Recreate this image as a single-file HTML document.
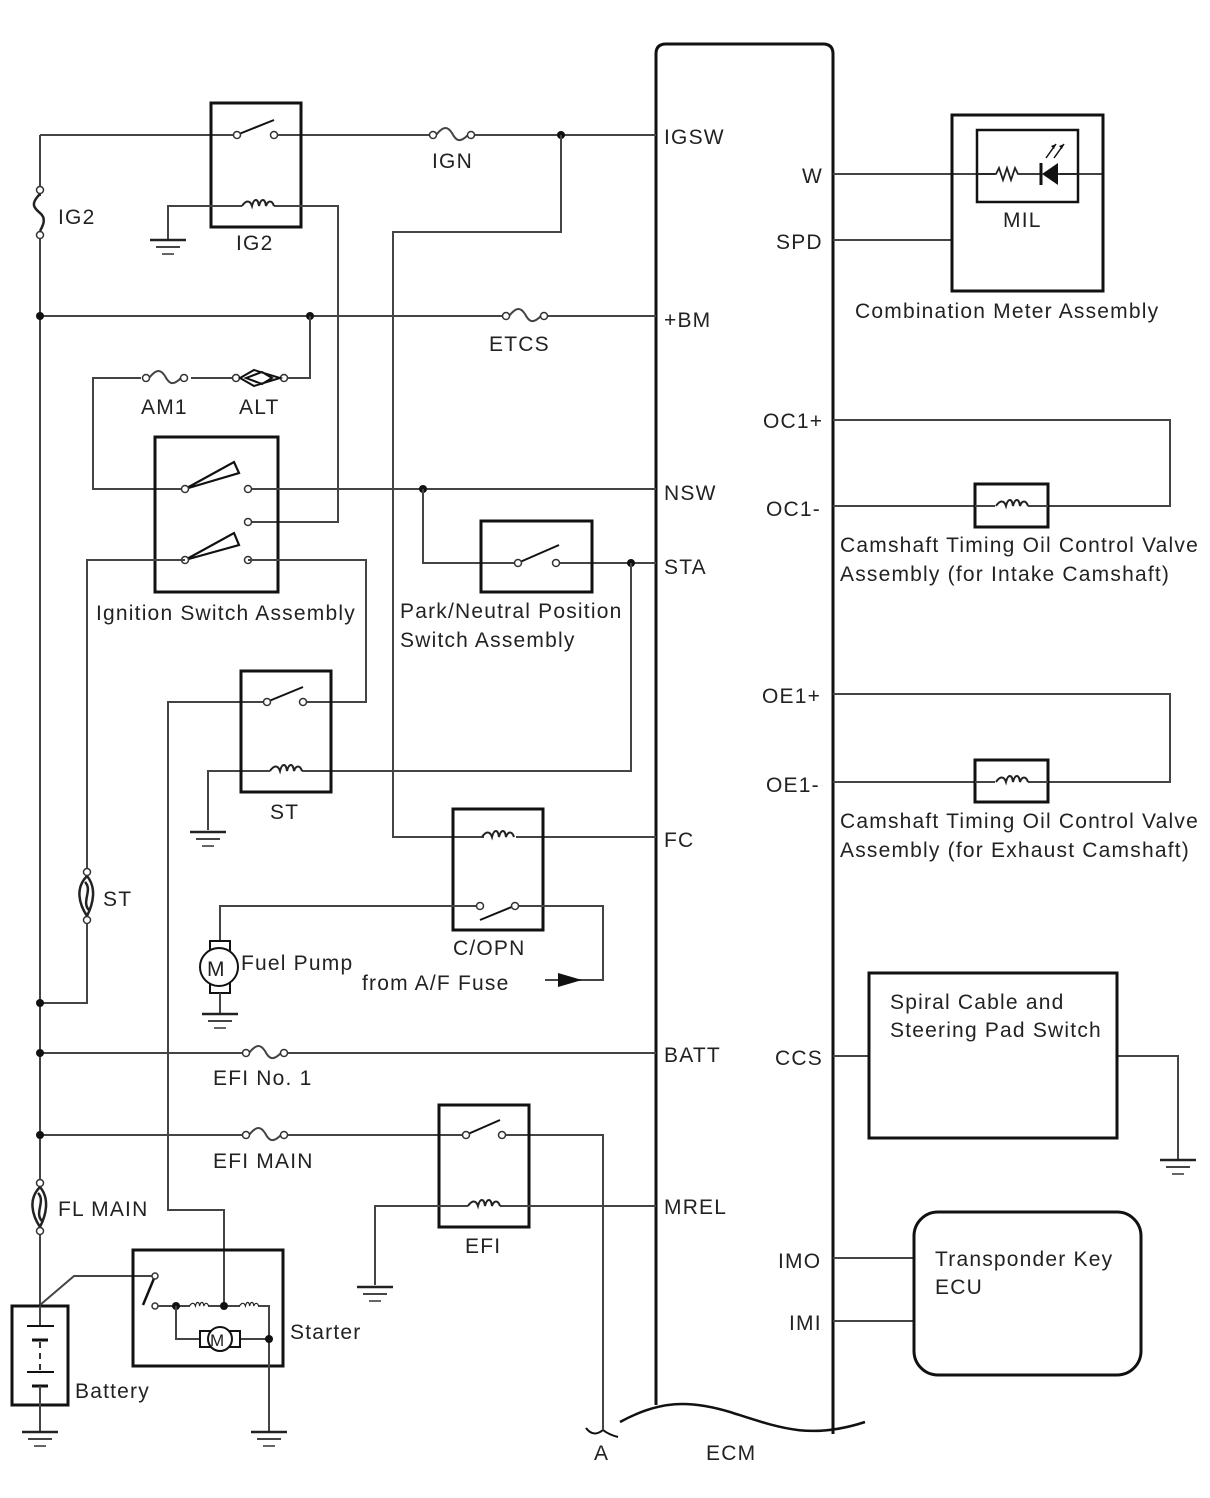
<!DOCTYPE html>
<html><head><meta charset="utf-8"><style>
html,body{margin:0;padding:0;background:#fff}
svg{display:block}
text{font-family:"Liberation Sans",sans-serif;font-size:21px;fill:#222;letter-spacing:1.2px}
.w{stroke:#444;stroke-width:2;fill:none}
.b{stroke:#111;stroke-width:3;fill:none}
.c{stroke:#333;stroke-width:1.5;fill:#fff}
.d{fill:#111}
</style></head><body>
<svg width="1210" height="1498" viewBox="0 0 1210 1498" xmlns="http://www.w3.org/2000/svg">
<defs>
<g id="gnd"><line x1="-18" y1="0" x2="18" y2="0" stroke="#222" stroke-width="2.5"/><line x1="-12" y1="7" x2="12" y2="7" stroke="#444" stroke-width="2"/><line x1="-6" y1="14" x2="6" y2="14" stroke="#666" stroke-width="2"/></g>
<g id="fh"><path d="M-16,0 C-8,-10 -4,-8 0,-2 C4,6 8,8 16,0" class="w" stroke="#222"/><circle cx="-19" cy="0" r="3.5" class="c"/><circle cx="19" cy="0" r="3.5" class="c"/></g>
<g id="coil"><path d="M-16,0 C-12,-6 -8,-6 -6,0 C-4,-8 0,-8 1,0 C3,-8 7,-8 8,0 C10,-6 14,-6 16,0" fill="none" stroke="#222" stroke-width="2"/></g>
<g id="fl"><path d="M0,-20 C-12,-8 -8,8 0,20 M0,-20 C10,-8 6,8 0,20 M-2,-14 C6,-6 -6,6 2,14" fill="none" stroke="#222" stroke-width="2.5"/><circle cx="0" cy="-24" r="3.5" class="c"/><circle cx="0" cy="24" r="3.5" class="c"/></g>
</defs>

<!-- ECM -->
<path d="M656,1405 L656,54 Q656,44 666,44 L823,44 Q833,44 833,54 L833,1434" class="b"/>
<path d="M620,1422 C660,1400 690,1400 730,1412 C780,1428 810,1440 865,1422" fill="none" stroke="#111" stroke-width="2.5"/>
<path d="M586,1428 C592,1436 598,1434 603,1430 C608,1434 614,1436 618,1437" fill="none" stroke="#111" stroke-width="2"/>
<text x="706" y="1460">ECM</text>
<text x="594" y="1460">A</text>

<!-- left bus -->
<line x1="40" y1="135" x2="40" y2="1305" class="w"/>
<circle cx="40" cy="190" r="3.5" class="c"/><circle cx="40" cy="235" r="3.5" class="c"/>
<rect x="34" y="196" width="12" height="35" fill="#fff"/>
<path d="M40,194 C30,204 34,208 40,213 C46,218 44,224 40,231" fill="none" stroke="#222" stroke-width="2.5"/>
<text x="58" y="224">IG2</text>

<!-- IGSW top line -->
<line x1="40" y1="135" x2="237" y2="135" class="w"/>
<line x1="274" y1="135" x2="432" y2="135" class="w"/>
<line x1="472" y1="135" x2="656" y2="135" class="w"/>
<use href="#fh" x="452" y="135"/>
<text x="432" y="168">IGN</text>
<rect x="211" y="103" width="90" height="124" class="b"/>
<line x1="239" y1="134" x2="274" y2="120" stroke="#111" stroke-width="2"/>
<circle cx="237" cy="135" r="3.5" class="c"/><circle cx="274" cy="135" r="3.5" class="c"/>
<circle cx="561" cy="135" r="4" class="d"/>
<text x="664" y="144">IGSW</text>
<!-- IG2 coil -->
<path d="M168,240 L168,206 L242,206 M274,206 L338,206 L338,522 L248,522" class="w"/>
<use href="#coil" x="258" y="206"/>
<use href="#gnd" x="168" y="240"/>
<text x="236" y="250">IG2</text>

<!-- FC line from 561 -->
<path d="M561,135 L561,232 L393,232 L393,837 L484,837 M516,837 L656,837" class="w"/>

<!-- +BM -->
<line x1="40" y1="316" x2="505" y2="316" class="w"/>
<line x1="545" y1="316" x2="656" y2="316" class="w"/>
<use href="#fh" x="525" y="316"/>
<circle cx="40" cy="316" r="4" class="d"/><circle cx="310" cy="316" r="4" class="d"/>
<text x="489" y="351">ETCS</text>
<text x="664" y="327">+BM</text>
<path d="M310,316 L310,378 L288,378 M234,378 L191,378 M141,378 L93,378 L93,489 L185,489" class="w"/>
<use href="#fh" x="165" y="378"/>
<circle cx="236" cy="378" r="3.5" class="c"/><circle cx="284" cy="378" r="3.5" class="c"/>
<path d="M240,378 L254,370 L280,378 L254,386 Z M246,378 L262,372 L272,378 L262,384 Z" fill="none" stroke="#111" stroke-width="2"/>
<text x="141" y="414">AM1</text>
<text x="239" y="414">ALT</text>

<!-- Ignition switch -->
<rect x="155" y="437" width="123" height="155" class="b"/>
<path d="M185,489 L234,462 L239,473 Z" fill="none" stroke="#111" stroke-width="2.2"/>
<path d="M185,560 L234,533 L239,545 Z" fill="none" stroke="#111" stroke-width="2.2"/>
<circle cx="185" cy="489" r="3.5" class="c"/><circle cx="248" cy="489" r="3.5" class="c"/>
<circle cx="248" cy="522" r="3.5" class="c"/>
<circle cx="185" cy="560" r="3.5" class="c"/><circle cx="248" cy="560" r="3.5" class="c"/>
<text x="96" y="620">Ignition Switch Assembly</text>
<line x1="252" y1="489" x2="656" y2="489" class="w"/>
<circle cx="423" cy="489" r="4" class="d"/>
<text x="664" y="500">NSW</text>

<!-- P/N switch -->
<path d="M423,489 L423,563 L514,563 M560,563 L656,563" class="w"/>
<rect x="481" y="521" width="111" height="71" class="b"/>
<line x1="520" y1="562" x2="559" y2="545" stroke="#111" stroke-width="2"/>
<circle cx="518" cy="563" r="3.5" class="c"/><circle cx="556" cy="563" r="3.5" class="c"/>
<circle cx="631" cy="563" r="4" class="d"/>
<text x="664" y="574">STA</text>
<text x="400" y="618">Park/Neutral Position</text>
<text x="400" y="647">Switch Assembly</text>
<path d="M631,563 L631,771 L302,771 M270,771 L208,771 L208,830" class="w"/>
<use href="#coil" x="286" y="771"/>
<use href="#gnd" x="208" y="832"/>

<!-- ST relay -->
<path d="M248,560 L366,560 L366,702 L307,702 M263,702 L168,702 L168,1210 L224,1210 L224,1305" class="w"/>
<rect x="241" y="671" width="90" height="121" class="b"/>
<line x1="269" y1="701" x2="303" y2="687" stroke="#111" stroke-width="2"/>
<circle cx="267" cy="702" r="3.5" class="c"/><circle cx="303" cy="702" r="3.5" class="c"/>
<text x="270" y="819">ST</text>

<!-- ST fuse path -->
<path d="M185,560 L87,560 L87,870 M87,922 L87,1003 L40,1003" class="w"/>
<use href="#fl" x="87" y="896"/>
<text x="103" y="906">ST</text>
<circle cx="40" cy="1003" r="4" class="d"/>

<!-- C/OPN -->
<rect x="453" y="809" width="90" height="121" class="b"/>
<use href="#coil" x="498" y="837"/>
<text x="664" y="847">FC</text>
<path d="M476,906 L220,906 L220,940 M519,906 L603,906 L603,980 L545,980" class="w"/>
<line x1="480" y1="920" x2="514" y2="906" stroke="#111" stroke-width="2"/>
<circle cx="480" cy="906" r="3.5" class="c"/><circle cx="515" cy="906" r="3.5" class="c"/>
<path d="M558,973 L582,980 L558,987 Z" class="d"/>
<text x="453" y="955">C/OPN</text>
<text x="362" y="990">from A/F Fuse</text>
<!-- fuel pump -->
<rect x="210" y="941" width="20" height="10" fill="#fff" stroke="#111" stroke-width="2"/>
<rect x="210" y="983" width="20" height="10" fill="#fff" stroke="#111" stroke-width="2"/>
<circle cx="219" cy="967" r="19" fill="#fff" stroke="#111" stroke-width="2"/>
<text x="207" y="976">M</text>
<line x1="220" y1="993" x2="220" y2="1013" class="w"/>
<use href="#gnd" x="220" y="1014"/>
<text x="241" y="970">Fuel Pump</text>

<!-- BATT -->
<line x1="40" y1="1053" x2="245" y2="1053" class="w"/>
<line x1="285" y1="1053" x2="656" y2="1053" class="w"/>
<use href="#fh" x="265" y="1053"/>
<circle cx="40" cy="1053" r="4" class="d"/>
<text x="213" y="1085">EFI No. 1</text>
<text x="664" y="1062">BATT</text>

<!-- EFI MAIN -->
<line x1="40" y1="1135" x2="245" y2="1135" class="w"/>
<path d="M285,1135 L462,1135 M506,1135 L603,1135 L603,1430" class="w"/>
<use href="#fh" x="265" y="1135"/>
<circle cx="40" cy="1135" r="4" class="d"/>
<text x="213" y="1168">EFI MAIN</text>
<rect x="439" y="1105" width="90" height="122" class="b"/>
<line x1="468" y1="1134" x2="500" y2="1120" stroke="#111" stroke-width="2"/>
<circle cx="466" cy="1135" r="3.5" class="c"/><circle cx="502" cy="1135" r="3.5" class="c"/>
<path d="M375,1285 L375,1206 L468,1206 M500,1206 L656,1206" class="w"/>
<use href="#coil" x="484" y="1206"/>
<use href="#gnd" x="375" y="1287"/>
<text x="465" y="1253">EFI</text>
<text x="664" y="1214">MREL</text>

<!-- FL MAIN -->
<rect x="30" y="1184" width="20" height="48" fill="#fff"/>
<use href="#fl" x="40" y="1207"/>
<text x="58" y="1216">FL MAIN</text>

<!-- Battery -->
<rect x="12" y="1306" width="56" height="99" class="b"/>
<line x1="40" y1="1306" x2="40" y2="1325" class="w"/>
<line x1="27" y1="1326" x2="54" y2="1326" stroke="#111" stroke-width="2"/>
<line x1="32" y1="1340" x2="48" y2="1340" stroke="#111" stroke-width="3"/>
<path d="M40,1342 L40,1372" stroke="#333" stroke-width="2" stroke-dasharray="6,5"/>
<line x1="27" y1="1372" x2="54" y2="1372" stroke="#111" stroke-width="2"/>
<line x1="32" y1="1386" x2="48" y2="1386" stroke="#111" stroke-width="3"/>
<line x1="40" y1="1386" x2="40" y2="1432" class="w"/>
<use href="#gnd" x="40" y="1432"/>
<text x="75" y="1398">Battery</text>

<!-- Starter -->
<path d="M40,1305 L74,1276 L154,1276" class="w"/>
<rect x="133" y="1250" width="150" height="116" class="b"/>
<line x1="143" y1="1305" x2="155" y2="1276" stroke="#111" stroke-width="2.5"/>
<circle cx="155" cy="1276" r="3" class="c"/>
<circle cx="155" cy="1306" r="3" class="c"/>
<path d="M158,1306 L190,1306 M208,1306 L240,1306 M258,1306 L269,1306 L269,1432" class="w"/>
<use href="#coil" x="199" y="1306" transform="translate(199 1306) scale(0.6) translate(-199 -1306)"/>
<use href="#coil" x="249" y="1306" transform="translate(249 1306) scale(0.6) translate(-249 -1306)"/>
<circle cx="176" cy="1306" r="4" class="d"/><circle cx="224" cy="1306" r="4" class="d"/>
<path d="M176,1306 L176,1339 L200,1339 M240,1339 L269,1339" class="w"/>
<rect x="200" y="1331" width="40" height="16" fill="#fff" stroke="#111" stroke-width="2"/>
<circle cx="220" cy="1339" r="12" fill="#fff" stroke="#111" stroke-width="2"/>
<text x="210" y="1346" style="font-size:17px;letter-spacing:0">M</text>
<circle cx="269" cy="1339" r="4" class="d"/>
<use href="#gnd" x="269" y="1432"/>
<text x="290" y="1339">Starter</text>

<!-- Right side -->
<text x="802" y="183">W</text>
<text x="776" y="249">SPD</text>
<line x1="833" y1="174" x2="1103" y2="174" class="w"/>
<line x1="833" y1="240" x2="952" y2="240" class="w"/>
<rect x="952" y="115" width="151" height="176" class="b"/>
<rect x="977" y="130" width="101" height="72" fill="none" stroke="#111" stroke-width="2.5"/>
<rect x="995" y="166" width="65" height="16" fill="#fff"/>
<path d="M977,174 L996,174 L999,168 L1003,180 L1007,168 L1011,180 L1015,168 L1018,174 L1040,174 M1058,174 L1078,174" fill="none" stroke="#222" stroke-width="1.8"/>
<line x1="1041" y1="163" x2="1041" y2="185" stroke="#111" stroke-width="3"/>
<path d="M1058,163 L1058,185 L1042,174 Z" class="d"/>
<path d="M1046,158 L1056,144 M1054,158 L1064,144" stroke="#111" stroke-width="1.5"/>
<path d="M1056,144 l-5,2 l3,3 Z M1064,144 l-5,2 l3,3 Z" class="d"/>
<text x="1003" y="227">MIL</text>
<text x="855" y="318">Combination Meter Assembly</text>

<text x="763" y="428">OC1+</text>
<text x="766" y="516">OC1-</text>
<path d="M833,420 L1170,420 L1170,506 L1048,506 M975,506 L833,506" class="w"/>
<rect x="975" y="484" width="73" height="43" class="b"/>
<line x1="975" y1="506" x2="995" y2="506" class="w"/><line x1="1028" y1="506" x2="1048" y2="506" class="w"/>
<use href="#coil" x="1012" y="506"/>
<text x="840" y="552">Camshaft Timing Oil Control Valve</text>
<text x="840" y="581">Assembly (for Intake Camshaft)</text>

<text x="762" y="703">OE1+</text>
<text x="766" y="792">OE1-</text>
<path d="M833,694 L1170,694 L1170,782 L1048,782 M975,782 L833,782" class="w"/>
<rect x="975" y="760" width="73" height="42" class="b"/>
<line x1="975" y1="782" x2="995" y2="782" class="w"/><line x1="1028" y1="782" x2="1048" y2="782" class="w"/>
<use href="#coil" x="1012" y="782"/>
<text x="840" y="828">Camshaft Timing Oil Control Valve</text>
<text x="840" y="857">Assembly (for Exhaust Camshaft)</text>

<text x="775" y="1065">CCS</text>
<path d="M833,1056 L869,1056 M1117,1056 L1178,1056 L1178,1160" class="w"/>
<rect x="869" y="973" width="248" height="165" class="b"/>
<use href="#gnd" x="1178" y="1160"/>
<text x="890" y="1009">Spiral Cable and</text>
<text x="890" y="1037">Steering Pad Switch</text>

<text x="778" y="1268">IMO</text>
<text x="789" y="1330">IMI</text>
<path d="M833,1258 L914,1258 M833,1321 L914,1321" class="w"/>
<rect x="914" y="1212" width="227" height="163" rx="24" class="b"/>
<text x="935" y="1266">Transponder Key</text>
<text x="935" y="1294">ECU</text>
</svg>
</body></html>
